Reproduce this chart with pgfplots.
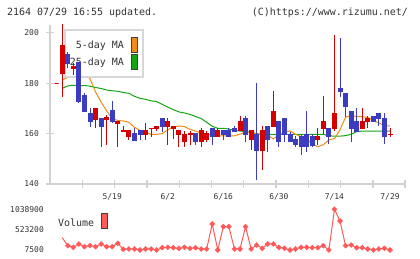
\documentclass[border=0pt]{standalone}
\usepackage{pgfplots}
\pgfplotsset{compat=1.18}
\usepackage{pgfplotstable}
\usepackage{fontspec}
\setmainfont{DejaVu Sans Mono}

\definecolor{upred}{RGB}{212,0,0}
\definecolor{downblue}{RGB}{60,60,192}
\definecolor{maorange}{RGB}{240,140,20}
\definecolor{magreen}{RGB}{20,165,20}
\definecolor{volred}{RGB}{255,90,90}
\definecolor{axisgray}{RGB}{210,210,210}
\definecolor{framegray}{RGB}{215,215,215}
\definecolor{txt}{RGB}{51,51,51}

% daily candles: index, low, body bottom, body top, high, up(1)/down(0)
\pgfplotstableread{
k  lo    bot   top   hi    up
0  180.0 180.0 180.0 180.0 1
1  174.7 184.0 195.2 204.0 1
2  186.0 188.0 191.5 192.3 0
3  183.3 186.0 186.5 188.0 1
4  172.1 172.7 188.2 188.2 0
5  168.7 168.7 175.0 176.3 0
6  162.8 164.8 168.1 170.1 0
7  162.1 165.8 170.1 170.1 1
8  154.8 162.8 166.1 166.1 0
9  155.5 165.8 166.3 167.4 1
10 164.1 164.8 169.1 173.1 0
11 154.8 164.0 165.0 165.0 1
12 160.5 161.0 161.3 163.0 1
13 157.5 158.8 161.1 161.1 1
14 157.5 157.5 159.9 162.1 0
15 157.5 159.7 161.1 161.1 0
16 157.5 159.7 161.1 164.1 1
17 158.8 161.9 162.2 162.2 1
18 161.1 162.0 163.0 163.0 1
19 160.8 162.8 166.2 166.2 0
20 155.5 162.8 165.0 166.2 1
21 157.7 162.0 163.0 163.0 1
22 154.8 159.7 161.1 161.1 1
23 154.8 156.8 159.7 161.1 1
24 155.5 159.6 159.9 161.1 1
25 155.5 156.8 159.9 159.9 0
26 154.8 156.8 161.1 162.1 1
27 156.8 157.7 159.9 161.1 1
28 155.5 158.8 162.1 162.1 0
29 158.8 158.8 161.1 162.1 1
30 157.5 159.5 161.1 161.1 0
31 158.8 158.8 161.1 162.1 0
32 160.7 160.7 162.1 163.0 0
33 161.1 161.1 165.0 167.0 1
34 156.8 159.7 166.2 167.0 0
35 153.5 157.7 161.1 161.1 1
36 141.6 153.5 159.7 180.2 0
37 145.6 153.5 161.1 163.0 1
38 152.8 157.7 163.0 163.0 0
39 162.8 162.8 169.0 177.0 1
40 154.8 156.8 165.0 165.0 0
41 156.8 159.7 166.1 166.1 0
42 156.8 156.8 159.7 160.8 0
43 154.8 155.7 157.7 159.0 0
44 151.5 154.8 159.0 159.9 0
45 152.8 154.8 159.7 169.0 0
46 154.8 155.5 159.0 159.7 0
47 155.5 157.7 159.0 162.1 1
48 159.7 162.0 165.0 175.0 1
49 155.7 159.0 162.1 162.1 0
50 161.1 162.1 168.1 199.2 1
51 174.7 176.7 178.0 197.9 0
52 166.7 170.7 176.0 176.0 0
53 156.8 162.1 169.0 169.0 0
54 160.8 160.8 165.0 170.1 0
55 162.1 162.1 165.0 170.1 1
56 162.1 165.0 166.1 167.0 1
57 164.8 164.8 167.0 167.0 0
58 163.0 166.1 168.1 168.1 0
59 155.7 158.8 166.1 168.1 0
60 158.8 159.6 159.8 162.1 1
}\candles

% 5-day moving average
\pgfplotstableread{
k  ma
1  181.3
2  182.3
3  184.0
4  184.5
5  184.0
6  181.8
7  176.5
8  172.5
9  169.0
10 166.0
11 165.2
12 165.0
13 164.5
14 162.5
15 161.3
16 160.5
17 159.7
18 159.7
19 160.0
20 161.5
21 162.7
22 163.0
23 162.8
24 161.7
25 161.0
26 160.2
27 159.7
28 159.4
29 159.1
30 159.1
31 159.1
32 159.1
33 159.8
34 160.4
35 160.7
36 159.7
37 160.0
38 159.3
39 157.9
40 159.5
41 160.5
42 161.1
43 159.7
44 158.8
45 157.8
46 156.0
47 154.8
48 155.6
49 157.5
50 158.0
51 161.5
52 166.5
53 167.2
54 166.7
55 166.7
56 166.4
57 165.3
58 164.2
59 163.2
60 163.0
}\maFive

% 25-day moving average
\pgfplotstableread{
k  ma
1  178.0
2  178.9
3  179.2
4  178.9
5  179.1
6  178.8
7  178.3
8  177.9
9  177.3
10 177.0
11 176.8
12 176.3
13 176.0
14 174.8
15 174.0
16 173.6
17 173.0
18 172.7
19 171.6
20 170.5
21 169.5
22 168.6
23 168.2
24 167.6
25 166.8
26 166.0
27 164.5
28 162.9
29 162.1
30 162.1
31 161.8
32 161.3
33 161.0
34 160.8
35 160.5
36 160.0
37 159.7
38 159.7
39 159.7
40 159.7
41 159.7
42 159.7
43 159.7
44 159.7
45 159.7
46 159.7
47 159.7
48 159.7
49 159.1
50 159.0
51 159.0
52 159.2
53 159.7
54 160.8
55 161.0
56 161.0
57 161.0
58 161.0
59 161.0
60 161.0
}\maTwentyFive

% daily volume
\pgfplotstableread{
k  vol
1  320300
2  117400
3  75100
4  159700
5  92000
6  117400
7  92000
8  159700
9  92000
10 92000
11 176600
12 24400
13 32900
14 32900
15 7500
16 32900
17 32900
18 7500
19 66700
20 75100
21 66700
22 49800
23 75100
24 49800
25 66700
26 32900
27 32900
28 666900
29 7500
30 599300
31 599300
32 32900
33 32900
34 599300
35 32900
36 134300
37 49800
38 159700
39 159700
40 75100
41 49800
42 7500
43 32900
44 75100
45 75100
46 66700
47 66700
48 117400
49 7500
50 1038900
51 743000
52 117400
53 134300
54 66700
55 66700
56 32900
57 7500
58 32900
59 49800
60 7500
}\volumes

\pgfplotsset{
  chartbase/.style={
    scale only axis, anchor=south west,
    width=355bp, xmin=-1.2, xmax=62.7,
    font=\fontsize{8}{9}\selectfont, tick label style={text=txt},
    scaled x ticks=false, scaled y ticks=false,
  },
}

\begin{document}
\begin{tikzpicture}
\useasboundingbox (0,0) rectangle (420bp,259bp);

\node[anchor=west, inner sep=0pt, text=txt, font=\fontsize{10}{12}\selectfont] at (7bp,246.5bp) {2164 07/29 16:55 updated.};
\node[anchor=east, inner sep=0pt, text=txt, font=\fontsize{10}{12}\selectfont] at (408bp,246.5bp) {(C)https://www.rizumu.net/};

% price frame, date labels and moving averages
\begin{axis}[chartbase,
  at={(50bp,75bp)}, height=159bp,
  ymin=140, ymax=203.1,
  axis x line*=bottom, axis y line*=left,
  axis line style={draw=axisgray, line width=1.3bp},
  major tick style={draw=axisgray, line width=1.3bp},
  major tick length=8bp, tick align=center,
  xtick={4.61,10.43,16.24,22.05,27.86,33.68,39.49,45.30,51.11,56.93,62.7},
  xticklabels={},
  extra x ticks={10,20,30,40,50,60},
  extra x tick labels={5/19,6/2,6/16,6/30,7/14,7/29},
  extra x tick style={major tick length=0pt,
    xticklabel style={anchor=north, inner sep=0pt, yshift=-9bp}},
  ytick={140,160,180,200},
  yticklabels={140,160,180,200},
  yticklabel style={anchor=east, inner sep=0pt, xshift=-7bp},
  clip=true,
]
\addplot[magreen, line width=1bp] table[x=k, y=ma] {\maTwentyFive};
\addplot[maorange, line width=1bp] table[x=k, y=ma] {\maFive};
\end{axis}

% legend of the moving averages
\draw[framegray, line width=1.2bp, fill=white] (65bp,182bp) rectangle (143bp,229bp);
\node[anchor=east, inner sep=0pt, text=txt, font=\fontsize{10}{12}\selectfont] at (124bp,213bp) {5-day MA};
\node[anchor=east, inner sep=0pt, text=txt, font=\fontsize{10}{12}\selectfont] at (124bp,196bp) {25-day MA};
\draw[black!75, line width=0.9bp, fill=maorange] (131bp,206.7bp) rectangle (137bp,221.7bp);
\draw[black!75, line width=0.9bp, fill=magreen] (131bp,189.7bp) rectangle (137bp,204.7bp);

% candles
\begin{axis}[chartbase,
  at={(50bp,75bp)}, height=159bp,
  ymin=140, ymax=203.1, hide axis, clip=true,
]
\pgfplotstablegetrowsof{\candles}
\pgfmathtruncatemacro\lastrow{\pgfplotsretval-1}
\pgfplotsforeachungrouped \i in {0,...,\lastrow}{%
  \pgfplotstablegetelem{\i}{k}\of\candles \edef\ck{\pgfplotsretval}%
  \pgfplotstablegetelem{\i}{lo}\of\candles \edef\clo{\pgfplotsretval}%
  \pgfplotstablegetelem{\i}{bot}\of\candles \edef\cbot{\pgfplotsretval}%
  \pgfplotstablegetelem{\i}{top}\of\candles \edef\ctop{\pgfplotsretval}%
  \pgfplotstablegetelem{\i}{hi}\of\candles \edef\chi{\pgfplotsretval}%
  \pgfplotstablegetelem{\i}{up}\of\candles \edef\cup{\pgfplotsretval}%
  \ifnum\cup=1 \def\cc{upred}\else\def\cc{downblue}\fi
  \pgfmathsetmacro\xl{\ck-0.36}%
  \pgfmathsetmacro\xr{\ck+0.36}%
  \edef\candlecmd{%
    \noexpand\addplot[draw=\cc, line width=1bp] coordinates {(\ck,\clo) (\ck,\chi)};%
    \noexpand\addplot[draw=\cc, fill=\cc, line width=0.8bp] coordinates {(\xl,\cbot) (\xr,\cbot) (\xr,\ctop) (\xl,\ctop)} -- cycle;%
  }%
  \candlecmd
}
\end{axis}

% volume
\begin{axis}[chartbase,
  at={(50bp,9bp)}, height=40.7bp,
  ymin=7500, ymax=1038900,
  axis line style={draw=none},
  major tick length=0pt,
  xtick=\empty,
  ytick={7500,523200,1038900},
  yticklabels={7500,523200,1038900},
  yticklabel style={anchor=east, inner sep=0pt, xshift=-6bp},
  clip=false,
]
\addplot[volred, line width=1bp] table[x=k, y=vol] {\volumes};
\addplot[volred, only marks, mark=square*, mark size=1.8bp,
  mark options={rotate=45, draw=volred, fill=volred},
  skip coords between index={0}{1}] table[x=k, y=vol] {\volumes};
\end{axis}

\node[anchor=west, inner sep=0pt, text=txt, font=\fontsize{10}{12}\selectfont] at (58bp,36.5bp) {Volume};
\draw[black!75, line width=0.9bp, fill=volred] (101bp,31bp) rectangle (107.5bp,46bp);
\end{tikzpicture}
\end{document}
